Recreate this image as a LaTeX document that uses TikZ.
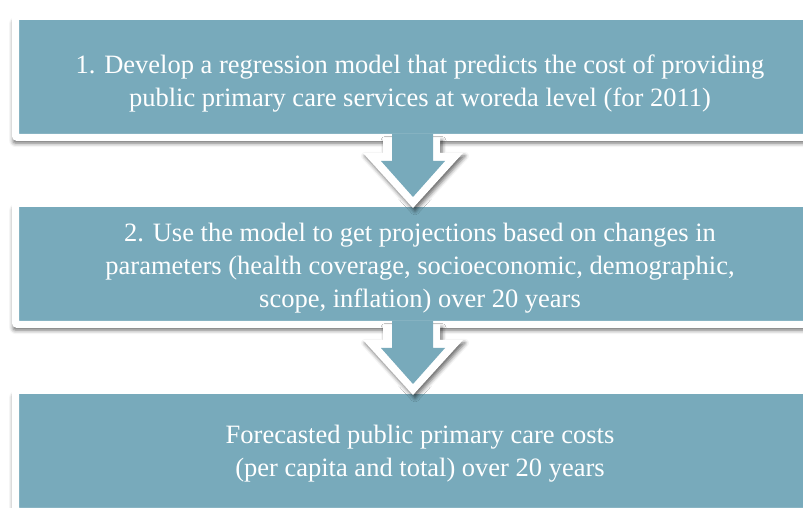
\documentclass[tikz,border=0pt]{standalone}
\usepackage{fontspec}
\setmainfont{Liberation Serif}
\usepackage{tikz}
\usetikzlibrary{calc,positioning,shadows.blur}
\definecolor{stepteal}{RGB}{120,170,187}

\begin{document}
\begin{tikzpicture}[x=1pt,y=1pt,
  stepbox/.style={draw=white,line width=7pt,fill=stepteal,rounded corners=2pt,
    minimum width=809pt,minimum height=121pt,
    blur shadow={shadow xshift=1pt,shadow yshift=-5pt,shadow scale=1.008,
      shadow blur radius=4pt,shadow opacity=60}},
  steptext/.style={text=white,align=center,font=\fontsize{26.5}{33}\selectfont},
  arrowedge/.style={fill=white,
    blur shadow={shadow xshift=2pt,shadow yshift=-3pt,shadow blur radius=4pt,shadow opacity=60}},
  arrowbody/.style={fill=stepteal},
  node distance=59pt,
]
\useasboundingbox (0,0) rectangle (803,508);
\clip (0,0) rectangle (803,508);

% the three steps
\node[stepbox] (step1) at (420,431) {};
\node[stepbox,below=of step1] (step2) {};
\node[stepbox,below=of step2] (step3) {};

% their texts
\node[steptext] (text1) at ([yshift=-7pt]step1.center)
  {1. Develop a regression model that predicts the cost of providing\\
   public primary care services at woreda level (for 2011)};
\node[steptext] (text2) at ([yshift=-4pt]step2.center)
  {2. Use the model to get projections based on changes in\\
   parameters (health coverage, socioeconomic, demographic,\\
   scope, inflation) over 20 years};
\node[steptext] (text3) at ([yshift=-3pt]step3.center)
  {Forecasted public primary care costs\\
   (per capita and total) over 20 years};

% the block arrows between the steps
\foreach \a/\b in {step1/step2,step2/step3}{
  \fill[arrowedge] ($(\a.south)+(-37,3.5)$) -- ($(\a.south)+(-37,-12)$)
    -- ($(\a.south)+(-57,-12)$) -- ($(\b.north)+(-7,-8)$)
    -- ($(\a.south)+(43,-12)$) -- ($(\a.south)+(20,-12)$)
    -- ($(\a.south)+(20,3.5)$) -- cycle;
  \fill[arrowbody] ($(\a.south)+(-28,7)$) -- ($(\a.south)+(-28,-20)$)
    -- ($(\a.south)+(-39,-20)$) -- ($(\b.north)+(-7,3)$)
    -- ($(\a.south)+(25,-20)$) -- ($(\a.south)+(13,-20)$)
    -- ($(\a.south)+(13,7)$) -- cycle;
}
\end{tikzpicture}
\end{document}
